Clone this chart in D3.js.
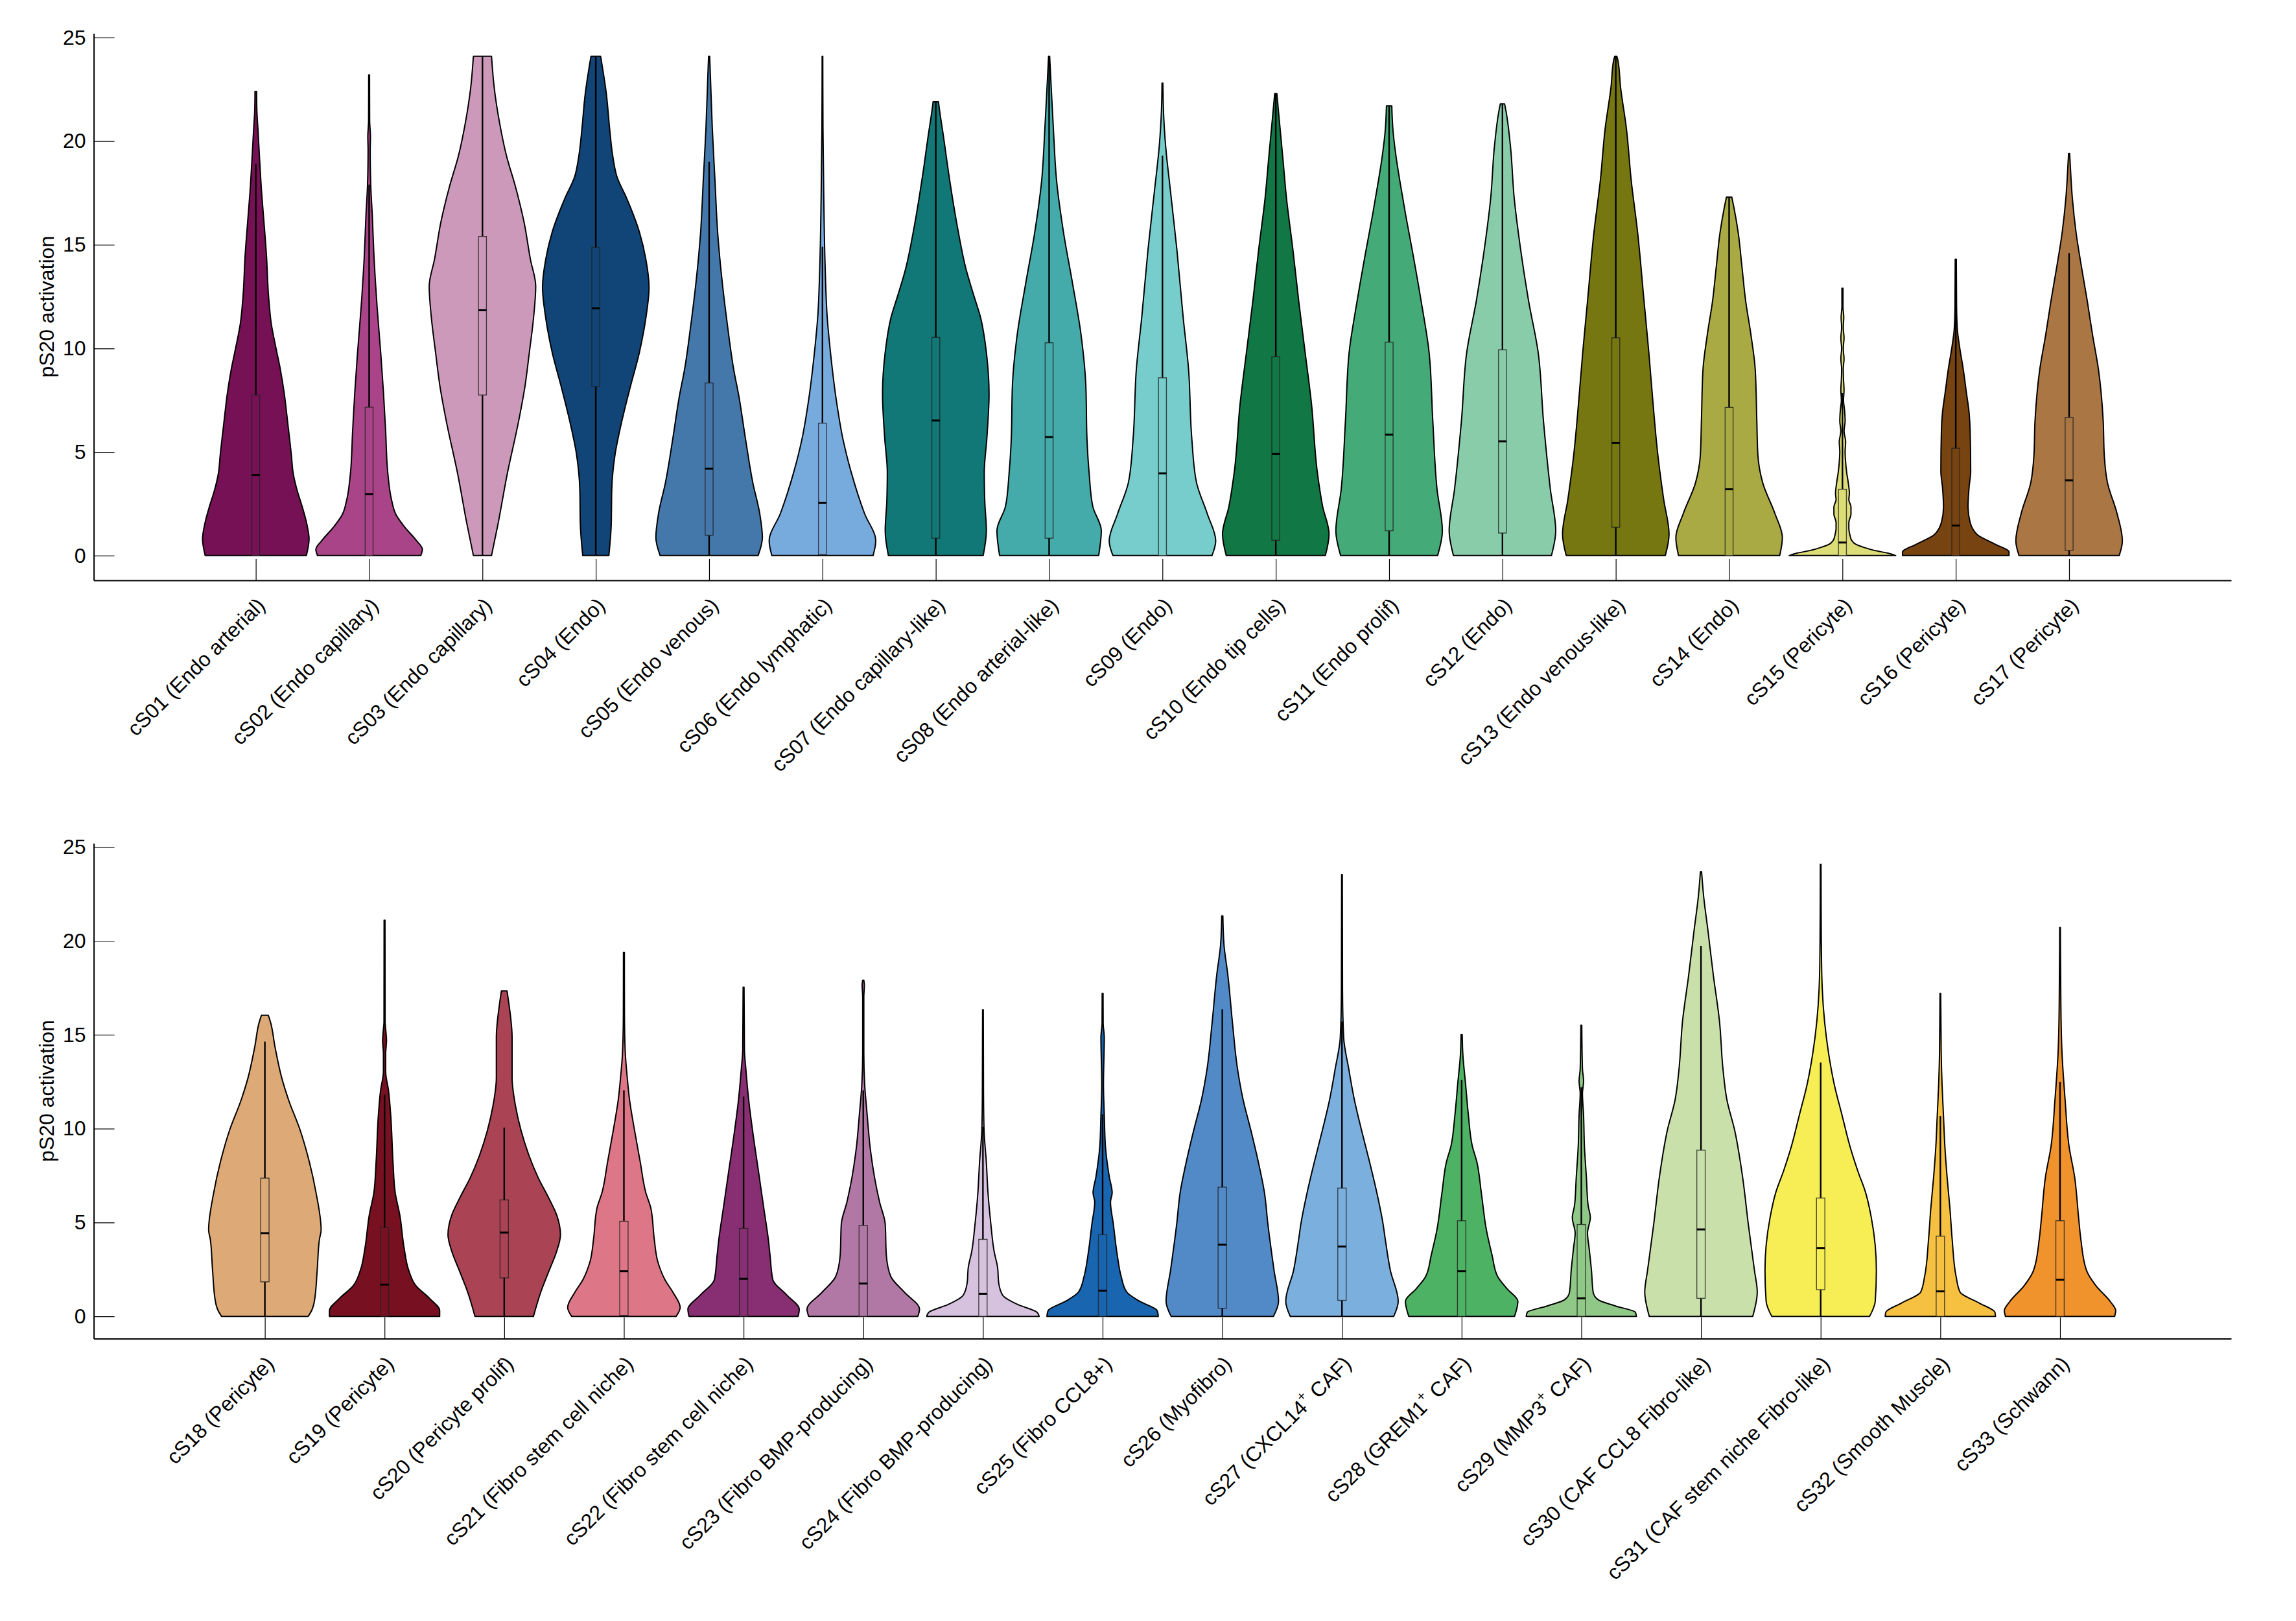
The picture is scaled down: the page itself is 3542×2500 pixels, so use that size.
<!DOCTYPE html>
<html>
<head>
<meta charset="utf-8">
<script src="https://cdn.jsdelivr.net/npm/d3@7"></script>
<style>
  html, body { margin: 0; padding: 0; background: #fff; }
  svg { display: block; font-family: "Liberation Sans", Arial, Helvetica, sans-serif; }
</style>
</head>
<body>
<svg id="chart" width="3542" height="2500"></svg>
<script>
// ---------------- DATA ----------------
const categoriesTop = [
  "cS01 (Endo arterial)", "cS02 (Endo capillary)", "cS03 (Endo capillary)", "cS04 (Endo)",
  "cS05 (Endo venous)", "cS06 (Endo lymphatic)", "cS07 (Endo capillary-like)",
  "cS08 (Endo arterial-like)", "cS09 (Endo)", "cS10 (Endo tip cells)", "cS11 (Endo prolif)",
  "cS12 (Endo)", "cS13 (Endo venous-like)", "cS14 (Endo)", "cS15 (Pericyte)",
  "cS16 (Pericyte)", "cS17 (Pericyte)"
];
const categoriesBottom = [
  "cS18 (Pericyte)", "cS19 (Pericyte)", "cS20 (Pericyte prolif)", "cS21 (Fibro stem cell niche)",
  "cS22 (Fibro stem cell niche)", "cS23 (Fibro BMP-producing)", "cS24 (Fibro BMP-producing)",
  "cS25 (Fibro CCL8+)", "cS26 (Myofibro)", "cS27 (CXCL14⁺ CAF)", "cS28 (GREM1⁺ CAF)",
  "cS29 (MMP3⁺ CAF)", "cS30 (CAF CCL8 Fibro-like)", "cS31 (CAF stem niche Fibro-like)",
  "cS32 (Smooth Muscle)", "cS33 (Schwann)"
];
const colorsTop = ["#771155", "#aa4488", "#cc99bb", "#114477", "#4477aa", "#77aadd", "#117777",
  "#44aaaa", "#77cccc", "#117744", "#44aa77", "#88ccaa", "#777711", "#aaaa44", "#dddd77",
  "#774411", "#aa7744"];
const colorsBottom = ["#ddaa77", "#771122", "#aa4455", "#dd7788", "#882e72", "#b178a6", "#d6c1de",
  "#1965b0", "#5289c7", "#7bafde", "#4eb265", "#90c987", "#cae0ab", "#f7ee55", "#f6c141", "#f1932d"];

const yTicks = [0, 5, 10, 15, 20, 25];
const yLabel = "pS20 activation";

// density profiles: [value, relative half-width]
const densityTop = [
  [[0,0.95],[0.8,1.0],[1.5,0.96],[2.37,0.87],[3.2,0.77],[4.0,0.7],[4.8,0.67],[6.4,0.6],[7.9,0.53],[9.0,0.46],[10,0.38],[11.2,0.29],[12.5,0.24],[14.5,0.2],[16.2,0.15],[17.5,0.11],[19.2,0.07],[20.6,0.04],[21.5,0.02],[22.4,0.015]],
  [[0,0.97],[0.3,1.0],[0.75,0.88],[1.4,0.66],[2.0,0.5],[2.7,0.42],[4.0,0.35],[6.0,0.31],[7.85,0.27],[9.7,0.22],[12,0.15],[14.5,0.09],[16.4,0.06],[17.9,0.03],[19.6,0.02],[20.2,0.025],[21,0.01],[23.2,0.008]],
  [[0,0.17],[1.5,0.29],[4.0,0.47],[6.5,0.68],[8.2,0.8],[9.8,0.88],[11.5,0.96],[13,1.0],[14.3,0.9],[16.1,0.78],[17.8,0.62],[19.3,0.45],[20.9,0.32],[22.6,0.22],[24.1,0.17]],
  [[0,0.245],[1.5,0.29],[3.2,0.3],[4.85,0.36],[6.5,0.49],[8.16,0.65],[9.82,0.82],[11.47,0.94],[12.96,1.0],[14.3,0.94],[15.6,0.82],[17.3,0.57],[18.26,0.4],[19.26,0.32],[20.6,0.26],[22.25,0.2],[24.1,0.09]],
  [[0,0.92],[0.87,1.0],[2.03,0.95],[3.52,0.82],[5.68,0.68],[7.67,0.56],[9.0,0.46],[11,0.35],[13.1,0.25],[15.6,0.16],[18.1,0.11],[20.6,0.06],[23.07,0.025],[24.1,0.01]],
  [[0,0.95],[0.71,1.0],[2.03,0.79],[4.02,0.54],[5.68,0.38],[7.33,0.27],[9.82,0.15],[11.47,0.09],[13.96,0.05],[17.27,0.025],[20.6,0.01],[24.1,0.006]],
  [[0,0.89],[1.2,0.95],[2.6,0.92],[4.0,0.91],[5.7,0.96],[7.8,1.0],[9.8,0.95],[11.5,0.84],[12.5,0.72],[13.8,0.57],[15.8,0.41],[18.3,0.25],[20.3,0.14],[21.5,0.07],[21.9,0.05]],
  [[0,0.93],[1.2,0.98],[2.37,0.82],[4.02,0.75],[5.68,0.71],[8.16,0.69],[10.65,0.6],[13.13,0.44],[15.6,0.27],[18.1,0.14],[20.6,0.08],[23.07,0.03],[24.1,0.01]],
  [[0,0.93],[0.71,1.0],[2.03,0.84],[3.52,0.64],[5.68,0.55],[9.0,0.49],[11.47,0.39],[14.79,0.27],[17.6,0.15],[19.76,0.06],[21.4,0.02],[22.8,0.008]],
  [[0,0.93],[1.04,1.0],[2.37,0.88],[4.02,0.78],[7.33,0.67],[9.82,0.55],[12.3,0.43],[14.79,0.32],[17.27,0.2],[19.26,0.13],[20.9,0.07],[22.3,0.02]],
  [[0,0.91],[1.2,1.0],[3.19,0.9],[6.5,0.82],[9.82,0.75],[12.3,0.6],[14.79,0.43],[16.45,0.31],[18.1,0.2],[19.26,0.13],[20.6,0.07],[21.7,0.05]],
  [[0,0.92],[1.2,1.0],[3.19,0.9],[6.5,0.77],[9.82,0.67],[12.3,0.49],[14.79,0.34],[17.27,0.22],[19.76,0.15],[21.4,0.07],[21.8,0.04]],
  [[0,0.93],[1.04,1.0],[2.7,0.9],[4.85,0.79],[7.33,0.7],[9.82,0.62],[12.3,0.53],[15.6,0.41],[18.1,0.29],[20.6,0.2],[22.6,0.09],[23.9,0.04],[24.1,0.02]],
  [[0,0.95],[0.87,1.0],[2.03,0.86],[3.52,0.63],[4.85,0.54],[6.5,0.52],[9.0,0.49],[10.65,0.41],[12.3,0.31],[13.96,0.24],[15.6,0.17],[16.8,0.09],[17.3,0.05]],
  [[0,1.0],[0.12,0.85],[0.25,0.6],[0.4,0.4],[0.55,0.25],[0.75,0.17],[1.0,0.14],[1.3,0.12],[1.6,0.12],[2.0,0.16],[2.35,0.16],[2.7,0.12],[3.0,0.13],[3.5,0.11],[4.0,0.08],[4.5,0.06],[5.0,0.05],[5.5,0.06],[6.0,0.03],[6.5,0.05],[7.0,0.04],[7.5,0.02],[8.0,0.03],[8.5,0.02],[9.0,0.015],[9.5,0.03],[10,0.015],[10.5,0.03],[11,0.015],[11.5,0.025],[12,0.01],[12.9,0.01]],
  [[0,1.0],[0.17,1.0],[0.55,0.74],[1.0,0.41],[1.6,0.27],[2.35,0.23],[3.3,0.25],[4.06,0.28],[6.0,0.27],[6.9,0.25],[7.85,0.2],[9.0,0.14],[10.1,0.07],[10.9,0.03],[12,0.015],[14.3,0.01]],
  [[0,0.94],[0.71,1.0],[2.03,0.9],[3.52,0.72],[4.85,0.66],[6.5,0.64],[9.0,0.55],[10.65,0.44],[12.3,0.34],[13.96,0.23],[15.6,0.13],[17.27,0.06],[18.93,0.02],[19.4,0.01]]
];
const densityBottom = [
  [[0,0.77],[0.3,0.83],[0.8,0.88],[2.45,0.93],[4.1,0.97],[4.6,1.0],[6.58,0.91],[8.23,0.79],[9.89,0.63],[11.54,0.42],[12.7,0.3],[14.35,0.18],[15.67,0.1],[16.04,0.06]],
  [[0,0.98],[0.3,0.98],[0.96,0.8],[1.62,0.56],[2.45,0.43],[3.6,0.35],[5.42,0.27],[6.58,0.19],[8.23,0.15],[10.71,0.11],[12.04,0.07],[13.03,0.02],[14.0,0.02],[14.68,0.035],[15.3,0.02],[15.67,0.01],[21.1,0.008]],
  [[0,0.52],[1.29,0.65],[2.45,0.8],[3.44,0.93],[4.35,1.0],[5.42,0.93],[6.25,0.8],[7.41,0.6],[8.57,0.44],[9.89,0.3],[11.21,0.2],[12.7,0.14],[14.85,0.14],[16.5,0.09],[17.33,0.05]],
  [[0,0.93],[0.47,1.0],[1.29,0.87],[1.95,0.73],[2.94,0.6],[4.1,0.54],[5.75,0.48],[6.58,0.39],[8.23,0.29],[9.89,0.19],[11.54,0.1],[12.7,0.06],[14.02,0.025],[16,0.01],[19.39,0.008]],
  [[0,0.97],[0.38,0.99],[1.13,0.77],[1.95,0.52],[3.27,0.47],[4.1,0.44],[5.75,0.36],[7.41,0.28],[9.89,0.16],[11.54,0.09],[13.19,0.04],[14.19,0.015],[17.53,0.008]],
  [[0,0.97],[0.38,1.0],[1.29,0.73],[2.12,0.49],[3.27,0.41],[4.93,0.39],[6.09,0.29],[7.41,0.2],[9.06,0.12],[10.71,0.07],[12.37,0.025],[14.02,0.01],[17.0,0.01],[17.65,0.02],[17.9,0.01]],
  [[0,1.0],[0.22,0.96],[0.63,0.62],[1.13,0.35],[1.79,0.28],[2.62,0.26],[3.44,0.2],[4.93,0.14],[6.58,0.09],[8.23,0.06],[9.89,0.02],[11.87,0.01],[16.33,0.006]],
  [[0,0.99],[0.3,0.97],[0.8,0.66],[1.29,0.43],[2.12,0.33],[3.27,0.26],[4.93,0.19],[6.09,0.14],[6.58,0.17],[7.41,0.12],[9.06,0.05],[10.71,0.03],[12.37,0.015],[14.85,0.03],[15.6,0.01],[17.2,0.008]],
  [[0,0.91],[0.8,1.0],[2.45,0.92],[4.93,0.81],[6.58,0.75],[8.23,0.64],[9.89,0.51],[11.54,0.37],[13.19,0.27],[15.67,0.18],[18.15,0.1],[19.8,0.03],[21.33,0.01]],
  [[0,0.92],[0.8,1.0],[2.45,0.86],[4.1,0.77],[4.93,0.73],[6.58,0.62],[8.23,0.49],[9.89,0.35],[11.54,0.22],[13.19,0.12],[14.85,0.03],[17.33,0.01],[23.52,0.006]],
  [[0,0.94],[0.8,1.0],[1.46,0.81],[2.12,0.64],[3.27,0.54],[4.6,0.44],[6.58,0.35],[8.23,0.27],[9.06,0.19],[10.71,0.12],[12.37,0.07],[14.02,0.02],[15.0,0.01]],
  [[0,0.98],[0.22,0.96],[0.55,0.61],[0.88,0.3],[1.29,0.21],[2.45,0.18],[3.6,0.14],[4.43,0.11],[5.26,0.16],[5.92,0.12],[7.41,0.09],[9.06,0.055],[10.71,0.04],[11.87,0.02],[12.53,0.04],[13.19,0.02],[15.5,0.008]],
  [[0,0.92],[1.29,1.0],[2.45,0.95],[4.93,0.84],[7.41,0.74],[9.89,0.6],[11.54,0.46],[13.19,0.39],[15.67,0.33],[18.15,0.22],[20.63,0.12],[22.28,0.05],[23.69,0.01]],
  [[0,0.87],[0.8,0.97],[2.45,0.99],[3.77,0.97],[5.26,0.9],[6.58,0.8],[7.74,0.66],[9.06,0.52],[10.71,0.38],[12.37,0.24],[14.02,0.14],[15.67,0.07],[18.15,0.02],[20.63,0.01],[24.07,0.006]],
  [[0,0.98],[0.22,0.97],[0.71,0.69],[1.29,0.35],[2.12,0.28],[4.1,0.21],[5.75,0.17],[7.41,0.12],[9.06,0.08],[10.71,0.055],[12.37,0.03],[14.02,0.015],[17.2,0.006]],
  [[0,0.97],[0.3,0.99],[0.8,0.89],[1.62,0.64],[2.45,0.47],[4.1,0.37],[5.26,0.33],[7.41,0.26],[9.06,0.16],[11.54,0.09],[14.02,0.035],[16.5,0.015],[20.71,0.006]]
];

// box statistics: [q1, median, q3, whiskerLow, whiskerHigh]
const boxTop = [
  [0, 3.89, 7.75, 0, 18.9], [0, 2.97, 7.16, 0, 17.9], [7.75, 11.84, 15.4, 0, 24.1],
  [8.16, 11.93, 14.87, 0, 24.1], [0.98, 4.19, 8.33, 0, 19.0], [0.05, 2.55, 6.39, 0, 14.9],
  [0.84, 6.52, 10.53, 0, 21.9], [0.84, 5.72, 10.27, 0, 24.1], [0, 3.97, 8.58, 0, 19.3],
  [0.74, 4.9, 9.6, 0, 22.3], [1.2, 5.84, 10.3, 0, 21.7], [1.09, 5.51, 9.93, 0, 21.8],
  [1.37, 5.43, 10.51, 0, 24.1], [0, 3.2, 7.15, 0, 17.3], [0, 0.63, 3.2, 0, 7.85],
  [0, 1.45, 5.18, 0, 14.3], [0.25, 3.63, 6.67, 0, 14.6]
];
const boxBottom = [
  [1.84, 4.43, 7.36, 0, 14.63], [0, 1.69, 4.73, 0, 11.8], [2.05, 4.46, 6.2, 0, 10.05],
  [0.05, 2.4, 5.06, 0, 12.04], [0, 2.0, 4.68, 0, 11.7], [0, 1.75, 4.84, 0, 12.04],
  [0, 1.2, 4.1, 0, 10.1], [0, 1.37, 4.35, 0, 10.76], [0.43, 3.82, 6.88, 0, 16.36],
  [0.85, 3.72, 6.83, 0, 15.7], [0, 2.4, 5.09, 0, 12.58], [0, 0.96, 4.89, 0, 12.2],
  [0.96, 4.63, 8.85, 0, 19.72], [1.42, 3.64, 6.3, 0, 13.52], [0, 1.33, 4.27, 0, 10.67],
  [0, 1.95, 5.09, 0, 12.48]
];

// ---------------- LAYOUT ----------------
const svg = d3.select("#chart");
const xLeft = 144.6, xRight = 3442;
const yDomain = [-1.19, 25.2];
const panels = [
  { cats: categoriesTop, colors: colorsTop, dens: densityTop, box: boxTop, top: 51.5, bottom: 894.9 },
  { cats: categoriesBottom, colors: colorsBottom, dens: densityBottom, box: boxBottom, top: 1300.4, bottom: 2064.6 }
];
const FONT = 32;

panels.forEach(p => {
  const x = d3.scalePoint().domain(p.cats).range([xLeft, xRight]).padding(1.43);
  const y = d3.scaleLinear().domain(yDomain).range([p.bottom, p.top]);
  const step = x.step();
  const hw = step * 0.47;
  const boxW = step * 0.07;
  const g = svg.append("g");

  // violins
  p.cats.forEach((c, i) => {
    const cx = x(c);
    const area = d3.area()
      .curve(d3.curveMonotoneY)
      .y(d => y(d[0]))
      .x0(d => cx - d[1] * hw)
      .x1(d => cx + d[1] * hw);
    g.append("path")
      .attr("d", area(p.dens[i]))
      .attr("fill", p.colors[i])
      .attr("stroke", "#000")
      .attr("stroke-width", 2)
      .attr("stroke-linejoin", "round");

    const [q1, med, q3, wlo, whi] = p.box[i];
    // whiskers
    g.append("line").attr("x1", cx).attr("x2", cx).attr("y1", y(q3)).attr("y2", y(whi))
      .attr("stroke", "#000").attr("stroke-width", 2.4);
    g.append("line").attr("x1", cx).attr("x2", cx).attr("y1", y(wlo)).attr("y2", y(q1))
      .attr("stroke", "#000").attr("stroke-width", 2.4);
    // box
    g.append("rect")
      .attr("x", cx - boxW / 2).attr("width", boxW)
      .attr("y", y(q3)).attr("height", Math.max(0, y(q1) - y(q3)))
      .attr("fill", p.colors[i])
      .attr("stroke", "#222").attr("stroke-opacity", 0.8).attr("stroke-width", 1.4);
    // median
    g.append("line").attr("x1", cx - boxW / 2).attr("x2", cx + boxW / 2)
      .attr("y1", y(med)).attr("y2", y(med))
      .attr("stroke", "#000").attr("stroke-width", 3);
  });

  // y axis
  const yAxis = d3.axisLeft(y).tickValues(yTicks).tickSizeInner(-32).tickSizeOuter(0).tickPadding(12);
  const ya = svg.append("g").attr("transform", `translate(${xLeft},0)`).call(yAxis);
  ya.select(".domain").attr("stroke-width", 2);
  ya.selectAll(".tick line").attr("stroke-width", 1.2);
  ya.selectAll(".tick text").attr("font-size", FONT).attr("font-family", "Liberation Sans, Arial, sans-serif").attr("fill", "#000");

  // x axis
  const xAxis = d3.axisBottom(x).tickSizeInner(-33).tickSizeOuter(0).tickFormat(() => "");
  const xa = svg.append("g").attr("transform", `translate(0,${p.bottom})`).call(xAxis);
  xa.select(".domain").attr("stroke-width", 2);
  xa.selectAll(".tick line").attr("stroke-width", 1.2);
  xa.selectAll(".tick text").remove();
  xa.selectAll(".tick").each(function(d) {
    const t = d3.select(this).append("text")
      .attr("transform", "translate(8,33) rotate(-45)")
      .attr("text-anchor", "end")
      .attr("dominant-baseline", "central")
      .attr("font-size", FONT)
      .attr("fill", "#000");
    const parts = d.split("⁺");
    parts.forEach((part, k) => {
      t.append("tspan").text(part);
      if (k < parts.length - 1) {
        t.append("tspan").attr("baseline-shift", "super").attr("font-size", FONT * 0.65).text("+");
      }
    });
  });

  // y label
  svg.append("text")
    .attr("transform", `translate(83,${(p.top + p.bottom) / 2}) rotate(-90)`)
    .attr("text-anchor", "middle")
    .attr("font-size", FONT)
    .attr("fill", "#000")
    .text(yLabel);
});
</script>
</body>
</html>
